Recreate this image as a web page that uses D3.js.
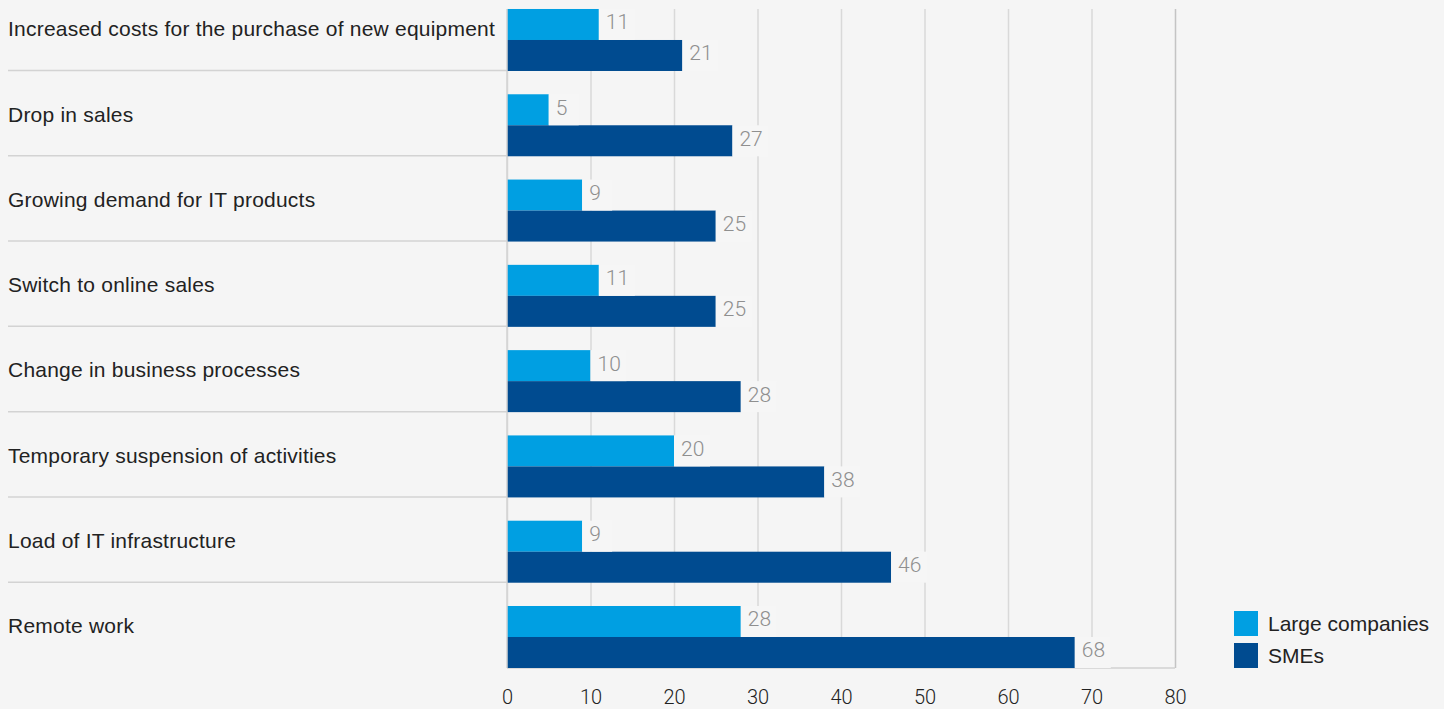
<!DOCTYPE html>
<html>
<head>
<meta charset="utf-8">
<script src="https://cdn.jsdelivr.net/npm/d3@7"></script>
<style>
  html, body { margin: 0; padding: 0; background: #f5f5f5; }
  svg { display: block; font-family: "Liberation Sans", Arial, sans-serif; }
</style>
</head>
<body>
<svg id="chart" width="1444" height="709"></svg>
<script>
// Reasons given, share of respondents (%)
const categories = [
  "Increased costs for the purchase of new equipment",
  "Drop in sales",
  "Growing demand for IT products",
  "Switch to online sales",
  "Change in business processes",
  "Temporary suspension of activities",
  "Load of IT infrastructure",
  "Remote work"
];
const seriesNames = ["Large companies", "SMEs"];
const largeCompanies = [11, 5, 9, 11, 10, 20, 9, 28];
const smes = [21, 27, 25, 25, 28, 38, 46, 68];
const xTicks = [0, 10, 20, 30, 40, 50, 60, 70, 80];

const colors = { "Large companies": "#009fe2", "SMEs": "#004b90" };
const bg = "#f5f5f5";

const svg = d3.select("#chart");
svg.append("rect").attr("width", 1444).attr("height", 709).attr("fill", bg);

const plotLeft = 507, plotRight = 1175, plotTop = 9, plotBottom = 668;

const x = d3.scaleLinear().domain([0, 80]).range([plotLeft, plotRight]);
const y = d3.scaleBand().domain(categories).range([-14.3, plotBottom]).paddingInner(0).paddingOuter(0);
const bw = y.bandwidth();
const barH = bw * 0.3635;
const inner = d3.scaleBand().domain(seriesNames).range([bw - 2 * barH, bw]);

// vertical gridlines + bottom tick labels
const xAxis = d3.axisBottom(x)
  .tickValues(xTicks)
  .tickSize(-(plotBottom - plotTop))
  .tickSizeOuter(0)
  .tickPadding(22)
  .tickFormat(d3.format("d"));

const gx = svg.append("g")
  .attr("transform", `translate(0,${plotBottom})`)
  .call(xAxis);
gx.select(".domain").remove();
gx.selectAll(".tick line")
  .attr("stroke", d => d === 80 ? "#c4c4c4" : "#d9d9d9")
  .attr("stroke-width", 1.5);
gx.selectAll(".tick text")
  .attr("fill", "#222")
  .attr("font-size", 20)
  .attr("font-family", "Roboto, 'Liberation Sans', sans-serif")
  .attr("font-weight", 300);

// axis baseline
svg.append("line")
  .attr("x1", x(0)).attr("x2", x(80))
  .attr("y1", plotBottom).attr("y2", plotBottom)
  .attr("stroke", "#d0d0d0").attr("stroke-width", 1.5);

// row separators under each category label
svg.append("g").selectAll("line")
  .data(categories.slice(0, -1))
  .join("line")
  .attr("x1", 8).attr("x2", plotLeft)
  .attr("y1", d => y(d) + bw - 0.5).attr("y2", d => y(d) + bw - 0.5)
  .attr("stroke", "#d3d3d3").attr("stroke-width", 1.5);

// category labels
svg.append("g").selectAll("text")
  .data(categories)
  .join("text")
  .attr("x", 8)
  .attr("y", d => y(d) + bw / 2 + 0.5 + 7.5)
  .attr("font-size", 21)
  .attr("letter-spacing", 0.22)
  .attr("fill", "#222")
  .text(d => d);

// bars
const rows = categories.map((c, i) => ({
  cat: c,
  values: [
    { series: seriesNames[0], value: largeCompanies[i] },
    { series: seriesNames[1], value: smes[i] }
  ]
}));

const groups = svg.append("g").selectAll("g")
  .data(rows)
  .join("g")
  .attr("transform", d => `translate(0,${y(d.cat)})`);

groups.selectAll("rect.bar")
  .data(d => d.values)
  .join("rect")
  .attr("class", "bar")
  .attr("x", x(0))
  .attr("y", d => inner(d.series))
  .attr("width", d => x(d.value) - x(0))
  .attr("height", inner.bandwidth())
  .attr("fill", d => colors[d.series]);

// value labels sit on a small background plate that hides the gridlines
const labels = groups.selectAll("g.lab")
  .data(d => d.values)
  .join("g")
  .attr("class", "lab")
  .attr("transform", d => `translate(${x(d.value)},${inner(d.series)})`);

labels.append("rect")
  .attr("x", 0).attr("y", 0)
  .attr("width", d => String(d.value).length > 1 ? 36 : 30)
  .attr("height", inner.bandwidth())
  .attr("fill", "#f6f6f6");

labels.append("text")
  .attr("x", 7)
  .attr("y", inner.bandwidth() / 2 + 5)
  .attr("font-size", 21)
  .attr("font-family", "Roboto, 'Liberation Sans', sans-serif")
  .attr("font-weight", 300)
  .attr("fill", "#8f8f8f")
  .text(d => d.value);

// left axis line
svg.append("line")
  .attr("x1", plotLeft).attr("x2", plotLeft)
  .attr("y1", plotTop).attr("y2", plotBottom)
  .attr("stroke", "#d3d3d3").attr("stroke-width", 1.5);

// legend
const legend = svg.append("g").attr("transform", "translate(1234,611)");
const li = legend.selectAll("g")
  .data(seriesNames)
  .join("g")
  .attr("transform", (d, i) => `translate(0,${i * 32})`);
li.append("rect")
  .attr("width", 24).attr("height", 25)
  .attr("fill", d => colors[d]);
li.append("text")
  .attr("x", 34).attr("y", 19.5)
  .attr("font-size", 21)
  .attr("fill", "#222")
  .text(d => d);
</script>
</body>
</html>
